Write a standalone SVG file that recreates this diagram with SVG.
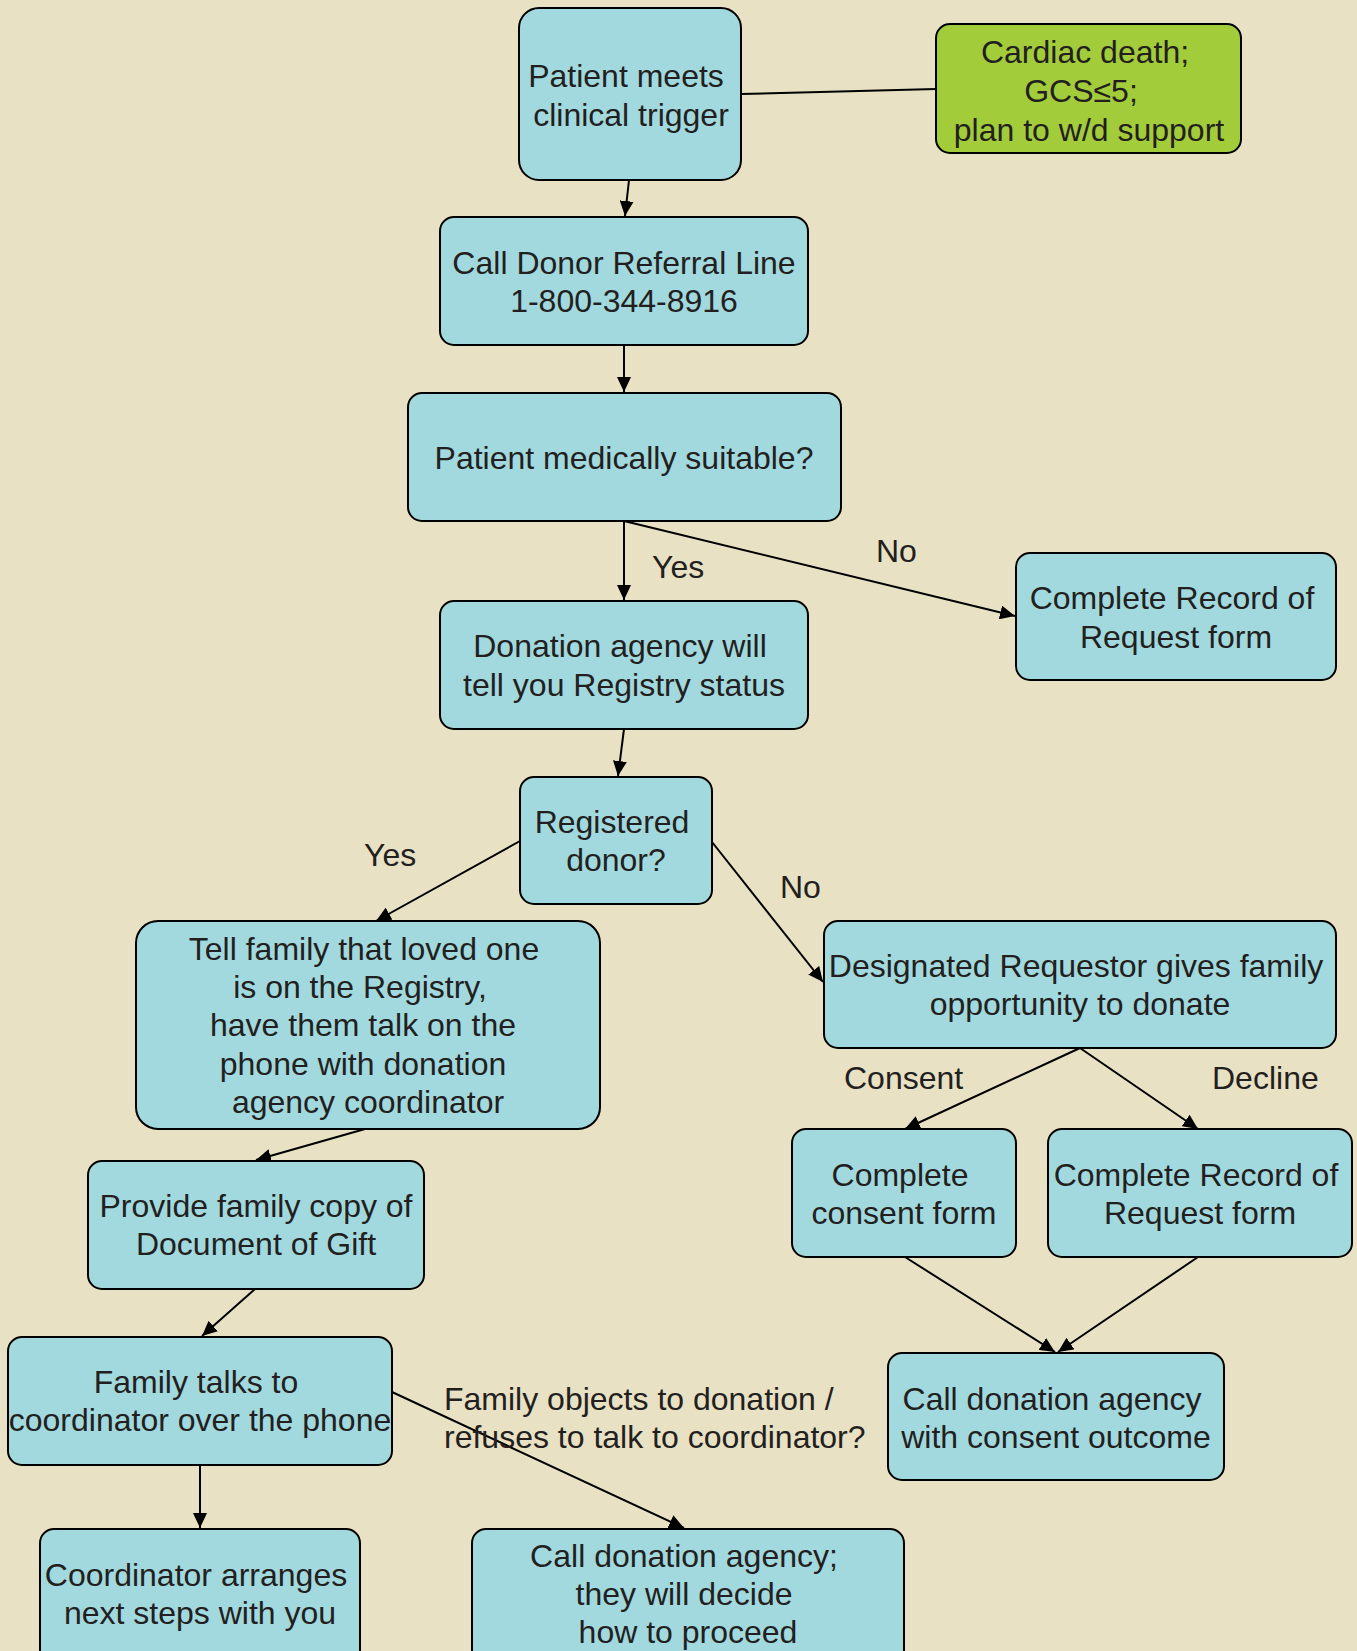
<svg xmlns="http://www.w3.org/2000/svg" width="1357" height="1651" viewBox="0 0 1357 1651">
<style>
.bg{fill:#e8e1c4}
.box{fill:#a1d9de;stroke:#000;stroke-width:2}
.green{fill:#a2cc3a;stroke:#000;stroke-width:2}
text{font-family:"Liberation Sans",Arial,sans-serif;font-size:32px;fill:#231f20}
.c{text-anchor:middle}
.ln{stroke:#000;stroke-width:2;fill:none}
.ar{marker-end:url(#ah)}
</style>
<defs>
<marker id="ah" markerUnits="userSpaceOnUse" markerWidth="16" markerHeight="14" refX="15" refY="7" orient="auto">
<path d="M0,0 L15,7 L0,14 Z" fill="#000"/>
</marker>
</defs>
<rect class="bg" x="0" y="0" width="1357" height="1651"/>
<g id="connectors">
<line class="ln ar" x1="629" y1="180" x2="625" y2="216"/>
<line class="ln" x1="741" y1="94" x2="936" y2="89"/>
<line class="ln ar" x1="624" y1="345" x2="624" y2="392"/>
<line class="ln ar" x1="624" y1="521" x2="624" y2="600"/>
<line class="ln ar" x1="624" y1="521" x2="1015" y2="616"/>
<line class="ln ar" x1="624" y1="729" x2="618" y2="776"/>
<line class="ln ar" x1="520" y1="841" x2="376" y2="921"/>
<line class="ln ar" x1="712" y1="842" x2="823" y2="982"/>
<line class="ln ar" x1="1080" y1="1048" x2="905" y2="1129"/>
<line class="ln ar" x1="1080" y1="1048" x2="1198" y2="1129"/>
<line class="ln ar" x1="905" y1="1257" x2="1055" y2="1352"/>
<line class="ln ar" x1="1198" y1="1257" x2="1058" y2="1352"/>
<line class="ln ar" x1="365" y1="1129" x2="256" y2="1160"/>
<line class="ln ar" x1="255" y1="1289" x2="202" y2="1336"/>
<line class="ln ar" x1="200" y1="1465" x2="200" y2="1528"/>
<line class="ln ar" x1="392" y1="1392" x2="684" y2="1528"/>
<text x="652" y="578">Yes</text>
<text x="876" y="562">No</text>
<text x="364" y="866">Yes</text>
<text x="780" y="898">No</text>
<text x="844" y="1089">Consent</text>
<text x="1212" y="1089">Decline</text>
<text x="444" y="1410">Family objects to donation /</text>
<text x="444" y="1448">refuses to talk to coordinator?</text>
</g>
<g id="n1"><rect class="box" x="519" y="8" width="222" height="172" rx="20"/>
<text class="c" x="626" y="87">Patient meets</text><text class="c" x="631" y="126">clinical trigger</text></g>
<g id="n2"><rect class="green" x="936" y="24" width="305" height="129" rx="14"/>
<text class="c" x="1085" y="63">Cardiac death;</text><text class="c" x="1081" y="102">GCS≤5;</text><text class="c" x="1089" y="141">plan to w/d support</text></g>
<g id="n3"><rect class="box" x="440" y="217" width="368" height="128" rx="14"/>
<text class="c" x="624" y="274">Call Donor Referral Line</text><text class="c" x="624" y="312">1-800-344-8916</text></g>
<g id="n4"><rect class="box" x="408" y="393" width="433" height="128" rx="14"/>
<text class="c" x="624" y="469">Patient medically suitable?</text></g>
<g id="n5"><rect class="box" x="1016" y="553" width="320" height="127" rx="14"/>
<text class="c" x="1172" y="609">Complete Record of</text><text class="c" x="1176" y="648">Request form</text></g>
<g id="n6"><rect class="box" x="440" y="601" width="368" height="128" rx="14"/>
<text class="c" x="620" y="657">Donation agency will</text><text class="c" x="624" y="696">tell you Registry status</text></g>
<g id="n7"><rect class="box" x="520" y="777" width="192" height="127" rx="14"/>
<text class="c" x="612" y="833">Registered</text><text class="c" x="616" y="871">donor?</text></g>
<g id="n8"><rect class="box" x="136" y="921" width="464" height="208" rx="22"/>
<text class="c" x="364" y="960">Tell family that loved one</text><text class="c" x="360" y="998">is on the Registry,</text><text class="c" x="363" y="1036">have them talk on the</text><text class="c" x="363" y="1075">phone with donation</text><text class="c" x="368" y="1113">agency coordinator</text></g>
<g id="n9"><rect class="box" x="824" y="921" width="512" height="127" rx="14"/>
<text class="c" x="1076" y="977">Designated Requestor gives family</text><text class="c" x="1080" y="1015">opportunity to donate</text></g>
<g id="n10"><rect class="box" x="792" y="1129" width="224" height="128" rx="14"/>
<text class="c" x="900" y="1186">Complete</text><text class="c" x="904" y="1224">consent form</text></g>
<g id="n11"><rect class="box" x="1048" y="1129" width="304" height="128" rx="14"/>
<text class="c" x="1196" y="1186">Complete Record of</text><text class="c" x="1200" y="1224">Request form</text></g>
<g id="n12"><rect class="box" x="88" y="1161" width="336" height="128" rx="14"/>
<text class="c" x="256" y="1217">Provide family copy of</text><text class="c" x="256" y="1255">Document of Gift</text></g>
<g id="n13"><rect class="box" x="8" y="1337" width="384" height="128" rx="14"/>
<text class="c" x="196" y="1393">Family talks to</text><text class="c" x="200" y="1431">coordinator over the phone</text></g>
<g id="n14"><rect class="box" x="888" y="1353" width="336" height="127" rx="14"/>
<text class="c" x="1052" y="1410">Call donation agency</text><text class="c" x="1056" y="1448">with consent outcome</text></g>
<g id="n15"><rect class="box" x="40" y="1529" width="320" height="140" rx="14"/>
<text class="c" x="196" y="1586">Coordinator arranges</text><text class="c" x="200" y="1624">next steps with you</text></g>
<g id="n16"><rect class="box" x="472" y="1529" width="432" height="140" rx="14"/>
<text class="c" x="684" y="1567">Call donation agency;</text><text class="c" x="684" y="1605">they will decide</text><text class="c" x="688" y="1643">how to proceed</text></g>
</svg>
